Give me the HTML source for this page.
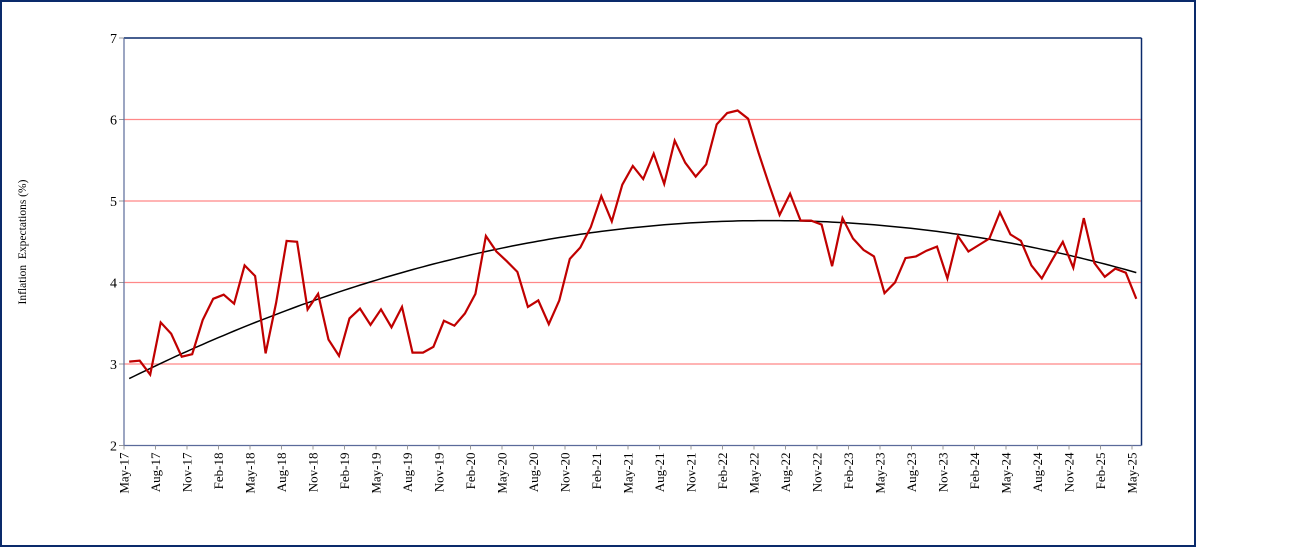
<!DOCTYPE html>
<html><head><meta charset="utf-8"><style>
html,body{margin:0;padding:0;background:#fff;}
svg{display:block;}
text{font-family:"Liberation Serif",serif;fill:#000;}
</style></head><body>
<svg id="s" width="1290" height="548" xmlns="http://www.w3.org/2000/svg">
<rect x="1" y="1" width="1194" height="545" fill="#fff" stroke="#0a2a6b" stroke-width="2"/>
<g id="g"></g>
</svg>
<script>
var d=[3.03,3.04,2.87,3.51,3.37,3.09,3.12,3.54,3.80,3.85,3.74,4.21,4.08,3.13,3.75,4.51,4.50,3.67,3.86,3.30,3.10,3.56,3.68,3.48,3.67,3.45,3.70,3.14,3.14,3.21,3.53,3.47,3.62,3.86,4.57,4.38,4.26,4.13,3.70,3.78,3.49,3.78,4.29,4.43,4.68,5.06,4.75,5.20,5.43,5.27,5.58,5.21,5.74,5.47,5.30,5.45,5.94,6.08,6.11,6.01,5.59,5.20,4.83,5.09,4.76,4.76,4.71,4.20,4.79,4.54,4.40,4.32,3.87,4.00,4.30,4.32,4.39,4.44,4.05,4.57,4.38,4.46,4.54,4.86,4.59,4.51,4.21,4.05,4.28,4.50,4.18,4.79,4.24,4.07,4.17,4.12,3.80];
var L=124,R=1141.5,T=38,B=445.5,w=(R-L)/97;
function Y(v){return T+(7-v)*(B-T)/5;}
function X(i){return L+w*(i+0.5);}
var h='';
for(var v=3;v<=6;v++)h+='<line x1="'+L+'" x2="'+R+'" y1="'+Y(v)+'" y2="'+Y(v)+'" stroke="#ff8888" stroke-width="1.3"/>';
for(var v=2;v<=7;v++){h+='<line x1="'+(L-5)+'" x2="'+L+'" y1="'+Y(v)+'" y2="'+Y(v)+'" stroke="#999"/>';
h+='<text x="'+(L-7)+'" y="'+(Y(v)+5)+'" font-size="14" text-anchor="end">'+v+'</text>';}
h+='<line x1="'+L+'" x2="'+R+'" y1="'+T+'" y2="'+T+'" stroke="#0a2a6b" stroke-width="1.5"/>';
h+='<line x1="'+R+'" x2="'+R+'" y1="'+T+'" y2="'+B+'" stroke="#0a2a6b" stroke-width="1.5"/>';
h+='<line x1="'+L+'" x2="'+L+'" y1="'+T+'" y2="'+B+'" stroke="#5a6a9a" stroke-width="1.2"/>';
h+='<line x1="'+L+'" x2="'+R+'" y1="'+B+'" y2="'+B+'" stroke="#5a6a9a" stroke-width="1.2"/>';
var m=['May','Aug','Nov','Feb'];
for(var k=0;k<=32;k++){var x=L+31.5*k;var yr=17+Math.floor((k+1)/4);
h+='<line x1="'+x+'" x2="'+x+'" y1="'+B+'" y2="'+(B+4)+'" stroke="#999"/>';
h+='<text transform="translate('+(x+4.5)+','+(B+7)+') rotate(-90)" font-size="13" text-anchor="end">'+m[k%4]+'-'+yr+'</text>';}
var p='';for(var i=0;i<97;i++)p+=X(i).toFixed(1)+','+Y(d[i]).toFixed(1)+' ';
var t='';for(var i=0;i<=96;i+=0.5){var v=4.76-0.000521*(i-61)*(i-61);t+=X(i).toFixed(1)+','+Y(v).toFixed(1)+' ';}
h+='<polyline points="'+t+'" fill="none" stroke="#000" stroke-width="1.5"/>';
h+='<polyline points="'+p+'" fill="none" stroke="#c00000" stroke-width="2.2" stroke-linejoin="miter"/>';
h+='<text transform="translate(26,242) rotate(-90)" font-size="11.5" text-anchor="middle" xml:space="preserve">Inflation  Expectations (%)</text>';
document.getElementById('g').innerHTML=h;
</script>
</body></html>
